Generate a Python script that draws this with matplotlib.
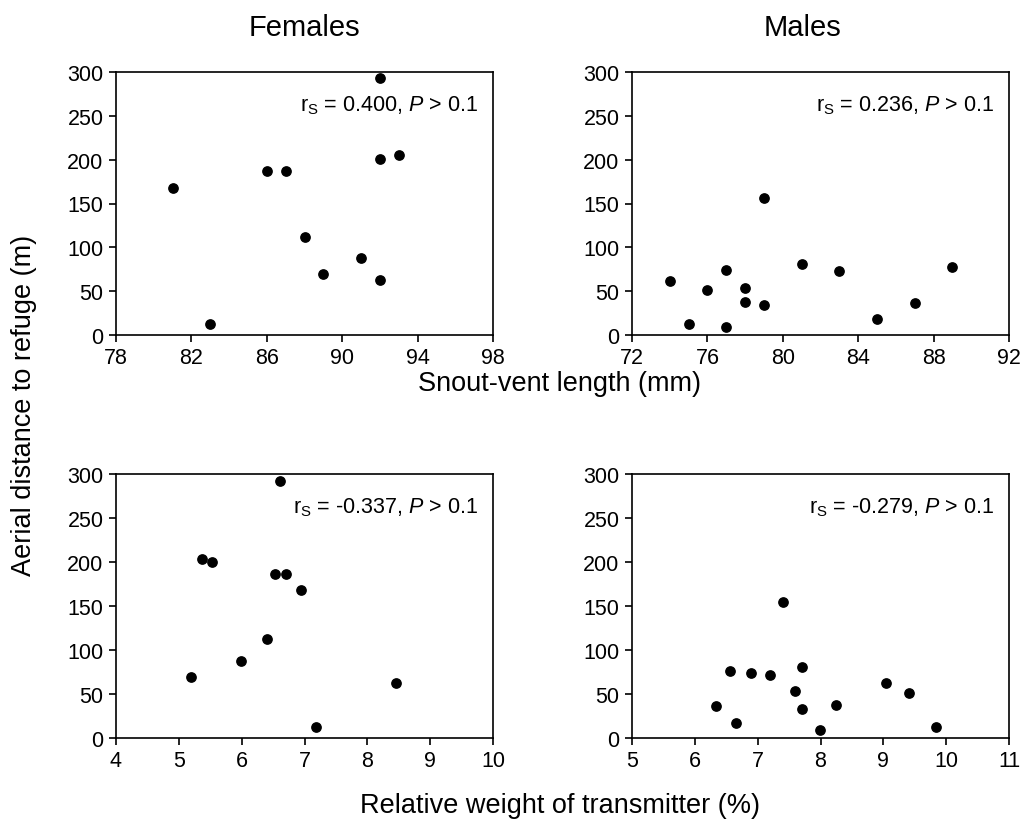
import matplotlib
matplotlib.use("Agg")
import matplotlib.pyplot as plt

plt.rcParams['font.family'] = ['Liberation Sans', 'DejaVu Sans']
plt.rcParams['mathtext.fontset'] = 'custom'
plt.rcParams['mathtext.rm'] = 'Liberation Sans'
plt.rcParams['mathtext.it'] = 'Liberation Sans:italic'

# females: snout-vent length (mm) and distance (m)
fem_svl = [81, 83, 86, 87, 88, 89, 91, 92, 92, 92, 93]
fem_dist = [168, 13, 187, 187, 112, 70, 88, 63, 201, 293, 205]

# males: snout-vent length (mm) and distance (m)
mal_svl = [74, 75, 76, 77, 77, 78, 78, 79, 79, 81, 83, 85, 87, 89]
mal_dist = [62, 13, 51, 74, 9, 54, 38, 156, 34, 81, 73, 18, 36, 77]

# relative weight of transmitter (%)
fem_rw = [5.20, 5.37, 5.52, 5.99, 6.41, 6.53, 6.61, 6.70, 6.94, 7.18, 8.45]
fem_rw_dist = [69, 203, 200, 88, 112, 186, 292, 186, 168, 13, 63]

mal_rw = [6.34, 6.56, 6.65, 6.90, 7.19, 7.41, 7.59, 7.71, 7.71, 7.99, 8.24, 9.04, 9.41, 9.84]
mal_rw_dist = [36, 76, 17, 74, 72, 155, 53, 81, 33, 9, 38, 62, 51, 13]

labels = [r'r$_\mathrm{S}$ = 0.400, $\mathit{P}$ > 0.1',
          r'r$_\mathrm{S}$ = 0.236, $\mathit{P}$ > 0.1',
          r'r$_\mathrm{S}$ = -0.337, $\mathit{P}$ > 0.1',
          r'r$_\mathrm{S}$ = -0.279, $\mathit{P}$ > 0.1']

fig = plt.figure(figsize=(10.23, 8.29), dpi=100)
W, H = 1023, 829

def make_ax(l, r, t, b):
    return fig.add_axes([l / W, 1 - b / H, (r - l) / W, (b - t) / H])

ax1 = make_ax(116, 493, 73, 336)
ax2 = make_ax(632, 1009, 73, 336)
ax3 = make_ax(116, 493, 475, 739)
ax4 = make_ax(632, 1009, 475, 739)

panels = [
    (ax1, fem_svl, fem_dist, (78, 98), range(78, 99, 4)),
    (ax2, mal_svl, mal_dist, (72, 92), range(72, 93, 4)),
    (ax3, fem_rw, fem_rw_dist, (4, 10), range(4, 11)),
    (ax4, mal_rw, mal_rw_dist, (5, 11), range(5, 12)),
]

for (ax, x, y, xl, xt), lab in zip(panels, labels):
    ax.scatter(x, y, s=45, color='black', zorder=3, clip_on=False)
    ax.set_xlim(*xl)
    ax.set_ylim(0, 300)
    ax.set_xticks(list(xt))
    ax.set_yticks(range(0, 301, 50))
    ax.tick_params(direction='out', length=5, width=1.2, labelsize=15.5, pad=4)
    for sp in ax.spines.values():
        sp.set_linewidth(1.2)
    ax.text(0.96, 0.92, lab, transform=ax.transAxes, ha='right', va='top', fontsize=15.5)

fig.text(304 / W, 1 - 28 / H, 'Females', ha='center', va='center', fontsize=21)
fig.text(803 / W, 1 - 28 / H, 'Males', ha='center', va='center', fontsize=21)
fig.text(560 / W, 1 - 384 / H, 'Snout-vent length (mm)', ha='center', va='center', fontsize=19.5)
fig.text(560 / W, 1 - 806 / H, 'Relative weight of transmitter (%)', ha='center', va='center', fontsize=19.5)
fig.text(24 / W, 1 - 405 / H, 'Aerial distance to refuge (m)', ha='center', va='center',
         rotation=90, fontsize=19.5)

fig.savefig('out.png', dpi=100)
